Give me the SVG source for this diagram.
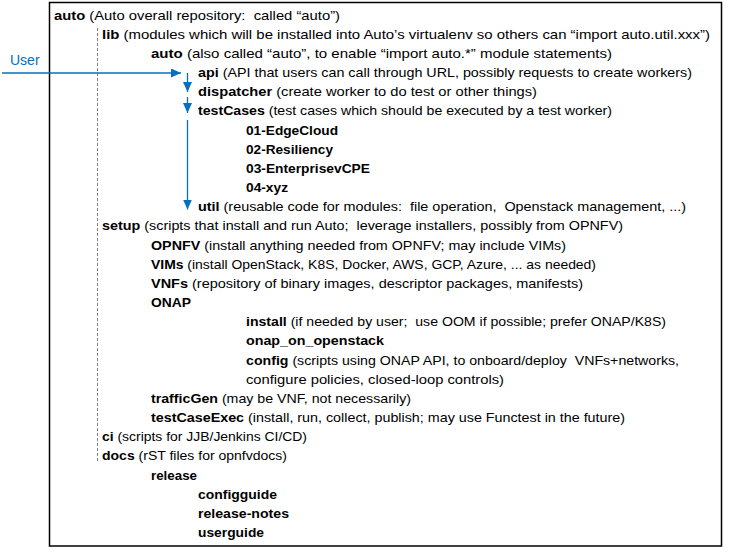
<svg xmlns="http://www.w3.org/2000/svg" width="738" height="552" viewBox="0 0 738 552">
<defs>
<style>
text{font-family:"Liberation Sans",Arial,sans-serif;font-size:13px;fill:#000;white-space:pre}
.b{font-weight:bold}
.blue{fill:#0070C0;font-size:14px}
.conn{stroke:#0070C0;stroke-width:1.3;fill:none}
.dash{stroke:#808080;stroke-width:1;stroke-dasharray:3,2;fill:none}
</style>
<marker id="ah" markerUnits="userSpaceOnUse" markerWidth="10" markerHeight="9" refX="10" refY="4.5" orient="auto">
<path d="M0,0 L10,4.5 L0,9 Z" fill="#0070C0"/>
</marker>
</defs>
<rect x="49.5" y="2.5" width="672" height="543.5" fill="#fff" stroke="#000" stroke-width="1.5"/>
<g id="connectors">
<line class="dash" x1="97.5" y1="28" x2="97.5" y2="463"/>
<line class="conn" x1="2" y1="73" x2="181" y2="73" marker-end="url(#ah)"/>
<line class="conn" x1="187.5" y1="73" x2="187.5" y2="92" marker-end="url(#ah)"/>
<line class="conn" x1="187.5" y1="97" x2="187.5" y2="113" marker-end="url(#ah)"/>
<line class="conn" x1="187.5" y1="120" x2="187.5" y2="209.5" marker-end="url(#ah)"/>
</g>
<g id="user"><text class="blue" x="10" y="65">User</text></g>
<g id="n-auto"><text x="54" y="19.5" textLength="286" lengthAdjust="spacingAndGlyphs"><tspan class="b">auto</tspan> (Auto overall repository:  called “auto”)</text></g>
<g id="n-lib"><text x="102" y="38.7" textLength="608" lengthAdjust="spacingAndGlyphs"><tspan class="b">lib</tspan> (modules which will be installed into Auto’s virtualenv so others can “import auto.util.xxx”)</text></g>
<g id="n-auto2"><text x="151" y="57.8" textLength="461" lengthAdjust="spacingAndGlyphs"><tspan class="b">auto</tspan> (also called “auto”, to enable “import auto.*” module statements)</text></g>
<g id="n-api"><text x="198" y="77" textLength="494" lengthAdjust="spacingAndGlyphs"><tspan class="b">api</tspan> (API that users can call through URL, possibly requests to create workers)</text></g>
<g id="n-dispatcher"><text x="198" y="96.2" textLength="339" lengthAdjust="spacingAndGlyphs"><tspan class="b">dispatcher</tspan> (create worker to do test or other things)</text></g>
<g id="n-testCases"><text x="198" y="115.4" textLength="414" lengthAdjust="spacingAndGlyphs"><tspan class="b">testCases</tspan> (test cases which should be executed by a test worker)</text></g>
<g id="n-01"><text class="b" x="246" y="134.5" textLength="92" lengthAdjust="spacingAndGlyphs">01-EdgeCloud</text></g>
<g id="n-02"><text class="b" x="246" y="153.7" textLength="87" lengthAdjust="spacingAndGlyphs">02-Resiliency</text></g>
<g id="n-03"><text class="b" x="246" y="172.9" textLength="124" lengthAdjust="spacingAndGlyphs">03-EnterprisevCPE</text></g>
<g id="n-04"><text class="b" x="246" y="192" textLength="42" lengthAdjust="spacingAndGlyphs">04-xyz</text></g>
<g id="n-util"><text x="198" y="211.2" textLength="488" lengthAdjust="spacingAndGlyphs"><tspan class="b">util</tspan> (reusable code for modules:  file operation,  Openstack management, ...)</text></g>
<g id="n-setup"><text x="102" y="230.4" textLength="521" lengthAdjust="spacingAndGlyphs"><tspan class="b">setup</tspan> (scripts that install and run Auto;  leverage installers, possibly from OPNFV)</text></g>
<g id="n-opnfv"><text x="151" y="249.5" textLength="415" lengthAdjust="spacingAndGlyphs"><tspan class="b">OPNFV</tspan> (install anything needed from OPNFV; may include VIMs)</text></g>
<g id="n-vims"><text x="151" y="268.7" textLength="445" lengthAdjust="spacingAndGlyphs"><tspan class="b">VIMs</tspan> (install OpenStack, K8S, Docker, AWS, GCP, Azure, ... as needed)</text></g>
<g id="n-vnfs"><text x="151" y="287.9" textLength="432" lengthAdjust="spacingAndGlyphs"><tspan class="b">VNFs</tspan> (repository of binary images, descriptor packages, manifests)</text></g>
<g id="n-onap"><text class="b" x="151" y="307" textLength="40" lengthAdjust="spacingAndGlyphs">ONAP</text></g>
<g id="n-install"><text x="246" y="326.2" textLength="420" lengthAdjust="spacingAndGlyphs"><tspan class="b">install</tspan> (if needed by user;  use OOM if possible; prefer ONAP/K8S)</text></g>
<g id="n-onap-on-openstack"><text class="b" x="246" y="345.4" textLength="138" lengthAdjust="spacingAndGlyphs">onap_on_openstack</text></g>
<g id="n-config"><text x="246" y="364.5" textLength="433" lengthAdjust="spacingAndGlyphs"><tspan class="b">config</tspan> (scripts using ONAP API, to onboard/deploy  VNFs+networks,</text>
<text x="246" y="383.7" textLength="258" lengthAdjust="spacingAndGlyphs">configure policies, closed-loop controls)</text></g>
<g id="n-trafficGen"><text x="151" y="402.9" textLength="260" lengthAdjust="spacingAndGlyphs"><tspan class="b">trafficGen</tspan> (may be VNF, not necessarily)</text></g>
<g id="n-testCaseExec"><text x="151" y="422" textLength="474" lengthAdjust="spacingAndGlyphs"><tspan class="b">testCaseExec</tspan> (install, run, collect, publish; may use Functest in the future)</text></g>
<g id="n-ci"><text x="102" y="441.2" textLength="205" lengthAdjust="spacingAndGlyphs"><tspan class="b">ci</tspan> (scripts for JJB/Jenkins CI/CD)</text></g>
<g id="n-docs"><text x="102" y="460.4" textLength="185" lengthAdjust="spacingAndGlyphs"><tspan class="b">docs</tspan> (rST files for opnfvdocs)</text></g>
<g id="n-release"><text class="b" x="151" y="479.5" textLength="46" lengthAdjust="spacingAndGlyphs">release</text></g>
<g id="n-configguide"><text class="b" x="198" y="498.7" textLength="79" lengthAdjust="spacingAndGlyphs">configguide</text></g>
<g id="n-release-notes"><text class="b" x="198" y="517.9" textLength="91" lengthAdjust="spacingAndGlyphs">release-notes</text></g>
<g id="n-userguide"><text class="b" x="198" y="537" textLength="66" lengthAdjust="spacingAndGlyphs">userguide</text></g>
</svg>
